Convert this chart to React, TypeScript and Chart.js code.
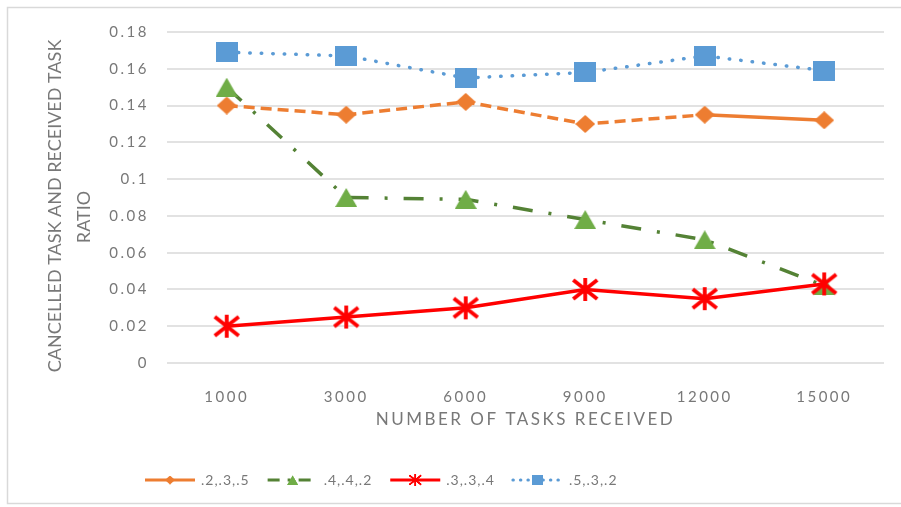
import React, { useEffect, useRef } from 'react';
import { Chart, registerables } from 'chart.js';

Chart.register(...registerables);

// Number of tasks received (x categories)
const categories = ['1000', '3000', '6000', '9000', '12000', '15000'];

// Cancelled / received task ratio for each weighting
const ratio_2_3_5 = [0.140, 0.135, 0.142, 0.130, 0.135, 0.132];
const ratio_4_4_2 = [0.150, 0.090, 0.089, 0.078, 0.067, 0.042];
const ratio_3_3_4 = [0.020, 0.025, 0.030, 0.040, 0.035, 0.043];
const ratio_5_3_2 = [0.169, 0.167, 0.155, 0.158, 0.167, 0.159];

const seriesNames = ['.2,.3,.5', '.4,.4,.2', '.3,.3,.4', '.5,.3,.2'];

const yMin = 0;
const yMax = 0.18;
const yStep = 0.02;

const xTitle = 'NUMBER OF TASKS RECEIVED';
const yTitleLines = ['CANCELLED TASK AND RECEIVED TASK', 'RATIO'];

const TEXT = '#787878';
const ORANGE = '#ED7D31';
const GREEN_LINE = '#548235';
const GREEN = '#70AD47';
const RED = '#FF0000';
const BLUE = '#5B9BD5';

function makeCanvas(w: number, h: number) {
  const c = document.createElement('canvas');
  c.width = w;
  c.height = h;
  return c;
}

function squareMarker(w: number, h: number, color: string) {
  const c = makeCanvas(w, h);
  const g = c.getContext('2d')!;
  g.fillStyle = color;
  g.fillRect(0, 0, w, h);
  return c;
}

function diamondMarker(w: number, h: number, color: string) {
  const c = makeCanvas(w, h);
  const g = c.getContext('2d')!;
  g.fillStyle = color;
  g.beginPath();
  g.moveTo(w / 2, 0);
  g.lineTo(w, h / 2);
  g.lineTo(w / 2, h);
  g.lineTo(0, h / 2);
  g.closePath();
  g.fill();
  return c;
}

function triangleMarker(w: number, h: number, color: string) {
  const c = makeCanvas(w, h);
  const g = c.getContext('2d')!;
  g.fillStyle = color;
  g.beginPath();
  g.moveTo(w / 2, 0);
  g.lineTo(w, h);
  g.lineTo(0, h);
  g.closePath();
  g.fill();
  return c;
}

function asteriskMarker(w: number, h: number, color: string, lw: number) {
  const c = makeCanvas(w, h);
  const g = c.getContext('2d')!;
  g.strokeStyle = color;
  g.lineWidth = lw;
  g.beginPath();
  g.moveTo(w / 2, 1);
  g.lineTo(w / 2, h - 1);
  g.moveTo(2, 3);
  g.lineTo(w - 2, h - 3);
  g.moveTo(w - 2, 3);
  g.lineTo(2, h - 3);
  g.stroke();
  return c;
}

const legendLineStyles = [
  { dash: [] as number[], cap: 'butt' as CanvasLineCap },
  { dash: [12, 8, 3, 8], cap: 'butt' as CanvasLineCap },
  { dash: [] as number[], cap: 'butt' as CanvasLineCap },
  { dash: [0.5, 7], cap: 'round' as CanvasLineCap },
];

const framePlugin = {
  id: 'frame',
  beforeDraw(chart: any) {
    const ctx = chart.ctx as CanvasRenderingContext2D;
    ctx.save();
    ctx.fillStyle = '#ffffff';
    ctx.fillRect(0, 0, chart.width, chart.height);
    ctx.strokeStyle = '#d9d9d9';
    ctx.lineWidth = 1.5;
    ctx.strokeRect(7.5, 7.5, chart.width, chart.height - 11);
    ctx.restore();
    (ctx as any).letterSpacing = '2.5px';
  },
};

const yTitlePlugin = {
  id: 'yTitle',
  afterDraw(chart: any) {
    const ctx = chart.ctx as CanvasRenderingContext2D;
    ctx.save();
    (ctx as any).letterSpacing = '0px';
    ctx.font = '18px Lato';
    ctx.fillStyle = TEXT;
    ctx.textAlign = 'center';
    ctx.textBaseline = 'middle';
    const spots = [
      [55, 206],
      [84, 217],
    ];
    yTitleLines.forEach((line, i) => {
      ctx.save();
      ctx.translate(spots[i][0], spots[i][1]);
      ctx.rotate(-Math.PI / 2);
      ctx.fillText(line, 0, 0);
      ctx.restore();
    });
    ctx.restore();
  },
};

const legendPlugin = {
  id: 'bottomLegend',
  afterDraw(chart: any) {
    const ctx = chart.ctx as CanvasRenderingContext2D;
    ctx.save();
    ctx.font = '14px Lato';
    (ctx as any).letterSpacing = '1px';
    let x = 145;
    const y = 480;
    chart.data.datasets.forEach((ds: any, i: number) => {
      const st = legendLineStyles[i];
      ctx.save();
      ctx.strokeStyle = ds.borderColor;
      ctx.lineWidth = 3;
      ctx.lineCap = st.cap;
      ctx.setLineDash(st.dash);
      ctx.beginPath();
      ctx.moveTo(x, y);
      ctx.lineTo(x + 50, y);
      ctx.stroke();
      ctx.restore();
      const m = ds.pointStyle as HTMLCanvasElement;
      const s = 0.5;
      ctx.drawImage(m, x + 25 - (m.width * s) / 2, y - (m.height * s) / 2, m.width * s, m.height * s);
      ctx.fillStyle = TEXT;
      ctx.textAlign = 'left';
      ctx.textBaseline = 'middle';
      ctx.fillText(ds.label, x + 56, y);
      x += 56 + ctx.measureText(ds.label).width + 18;
    });
    ctx.restore();
  },
};

export default function App() {
  const canvasRef = useRef<HTMLCanvasElement | null>(null);

  useEffect(() => {
    const canvas = canvasRef.current;
    if (!canvas) return;

    const diamond = diamondMarker(20, 18, ORANGE);
    const triangle = triangleMarker(22, 19, GREEN);
    const asterisk = asteriskMarker(28, 25, RED, 3.8);
    const square = squareMarker(22, 20, BLUE);

    const chart = new Chart(canvas, {
      type: 'line',
      data: {
        labels: categories,
        datasets: [
          {
            label: seriesNames[0],
            data: ratio_2_3_5,
            borderColor: ORANGE,
            borderWidth: 3.5,
            pointStyle: diamond as any,
            pointRadius: 10,
            segment: {
              borderDash: (c: any) => (c.p1DataIndex === categories.length - 1 ? [] : [11, 6]),
            },
            order: 4,
          },
          {
            label: seriesNames[1],
            data: ratio_4_4_2,
            borderColor: GREEN_LINE,
            borderWidth: 3.5,
            borderDash: [20, 16, 3, 16],
            pointStyle: triangle as any,
            pointRadius: 10,
            order: 3,
          },
          {
            label: seriesNames[2],
            data: ratio_3_3_4,
            borderColor: RED,
            borderWidth: 3.5,
            pointStyle: asterisk as any,
            pointRadius: 10,
            order: 2,
          },
          {
            label: seriesNames[3],
            data: ratio_5_3_2,
            borderColor: BLUE,
            borderWidth: 3.5,
            borderDash: [0.5, 11],
            borderCapStyle: 'round',
            pointStyle: square as any,
            pointRadius: 10,
            order: 1,
          },
        ],
      },
      options: {
        animation: false,
        responsive: false,
        devicePixelRatio: 1,
        layout: { padding: { left: 0, right: 17, top: 32, bottom: 44 } },
        plugins: {
          legend: { display: false },
          tooltip: { enabled: false },
        },
        elements: { line: { tension: 0 } },
        scales: {
          x: {
            offset: true,
            grid: { display: false },
            border: { display: false },
            ticks: {
              color: TEXT,
              font: { family: 'Lato', size: 15 },
              padding: 17,
              maxRotation: 0,
            },
            title: {
              display: true,
              text: xTitle,
              color: TEXT,
              font: { family: 'Lato', size: 17 },
              padding: { top: 0, bottom: 33 },
            },
            afterFit: (s: any) => {
              s.height = 100;
            },
          },
          y: {
            min: yMin,
            max: yMax,
            grid: { color: '#e2e2e2', lineWidth: 2, drawTicks: false },
            border: { display: false },
            ticks: {
              stepSize: yStep,
              color: TEXT,
              font: { family: 'Lato', size: 15 },
              padding: 18,
              callback: (v: any) => String(+Number(v).toFixed(2)),
            },
            afterFit: (s: any) => {
              s.width = 167;
            },
          },
        },
      },
      plugins: [framePlugin, yTitlePlugin, legendPlugin],
    });

    return () => chart.destroy();
  }, []);

  return (
    <div style={{ position: 'absolute', left: 0, top: 0, width: 901, height: 507 }}>
      <canvas ref={canvasRef} width={901} height={507} style={{ display: 'block' }} />
    </div>
  );
}
